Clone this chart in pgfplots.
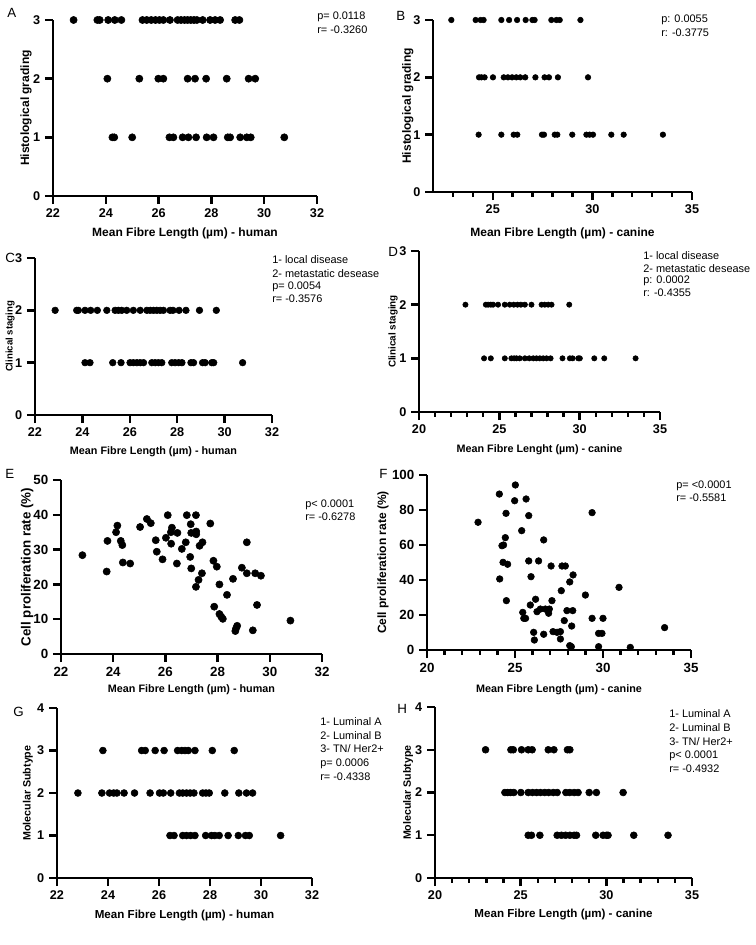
\documentclass[border=0pt]{standalone}
\usepackage{fontspec}
\setmainfont{Liberation Sans}
\usepackage{pgfplots}
\pgfplotsset{compat=1.18}

\def\u{0.75pt}
\pgfplotsset{
  gp/.style={
    scale only axis, clip=false, anchor=south west,
    axis lines*=left,
    axis line style={-, line width=1.8pt, black},
    tick align=outside,
    major tick length=6pt, minor tick length=3.5pt,
    tick style={black, line width=1.8pt},
    ticklabel style={font=\bfseries\fontsize{9.5}{11}\selectfont},
    /pgf/number format/assume math mode=true,
    every axis plot post/.append style={only marks, mark=*, black, mark options={fill=black, draw=black}},
  },
  xl/.style 2 args={xlabel style={at={(axis description cs:0.5,-#1)}, anchor=center, font=\bfseries\fontsize{#2}{11}\selectfont}},
  yl/.style 2 args={ylabel style={at={(axis description cs:-#1,0.5)}, anchor=center, font=\bfseries\fontsize{#2}{11}\selectfont}},
}
\newcommand\ann[3]{\node[anchor=base west, inner sep=0pt, font=\fontsize{8.2}{10}\selectfont] at (#1*\u,-#2*\u) {#3};}
\newcommand\lett[3]{\node[anchor=base west, inner sep=0pt, font=\fontsize{10}{12}\selectfont] at (#1*\u,-#2*\u) {#3};}

\begin{document}
\begin{tikzpicture}
\useasboundingbox (0,0) rectangle (756*\u,-945*\u);

% A
\begin{axis}[gp, at={(53*\u,-196*\u)}, width=264*\u, height=176*\u,
  xmin=22, xmax=32, ymin=0, ymax=3, xtick={22,24,...,32}, ytick={0,1,2,3},
  xlabel={Mean Fibre Length (µm) - human}, ylabel={Histological grading},
  xl={0.21}{9}, yl={0.102}{9}, mark size=2.7pt]
\addplot coordinates {(22.78,3) (23.68,3) (23.77,3) (24.09,3) (24.34,3) (24.59,3)
 (25.39,3) (25.55,3) (25.72,3) (25.88,3) (26.03,3) (26.18,3) (26.43,3)
 (26.72,3) (26.85,3) (26.98,3) (27.10,3) (27.22,3) (27.34,3) (27.45,3)
 (27.67,3) (27.95,3) (28.14,3) (28.33,3) (28.90,3) (29.06,3)
 (24.06,2) (25.27,2) (25.99,2) (26.18,2) (27.10,2) (27.38,2) (27.80,2) (28.58,2) (29.41,2) (29.66,2)
 (24.25,1) (24.32,1) (25.00,1) (26.41,1) (26.56,1) (26.91,1) (27.13,1) (27.42,1) (27.82,1) (28.08,1)
 (28.62,1) (28.71,1) (29.09,1) (29.34,1) (29.49,1) (30.76,1)};
\end{axis}

% B
\begin{axis}[gp, at={(433*\u,-192*\u)}, width=259*\u, height=172*\u,
  xmin=22, xmax=35, ymin=0, ymax=3, xtick={25,30,35}, minor xtick={23,24,26,27,28,29,31,32,33,34}, ytick={0,1,2,3},
  xlabel={Mean Fibre Length (µm) - canine}, ylabel={Histological grading},
  xl={0.238}{9}, yl={0.097}{9}, mark size=2.1pt]
\addplot coordinates {(22.92,3) (24.14,3) (24.39,3) (24.54,3) (25.43,3) (25.82,3) (26.22,3)
 (26.65,3) (26.99,3) (27.10,3) (27.94,3) (28.19,3) (28.36,3) (29.40,3)
 (24.31,2) (24.43,2) (24.59,2) (25.01,2) (25.55,2) (25.76,2) (25.97,2) (26.18,2) (26.38,2) (26.63,2)
 (27.14,2) (27.60,2) (27.82,2) (28.27,2) (29.78,2)
 (24.29,1) (25.43,1) (26.05,1) (26.23,1) (27.47,1) (27.57,1) (28.11,1) (28.24,1) (28.99,1)
 (29.70,1) (29.86,1) (30.03,1) (30.95,1) (31.57,1) (33.54,1)};
\end{axis}

% C
\begin{axis}[gp, at={(35*\u,-415*\u)}, width=237*\u, height=157*\u,
  xmin=22, xmax=32, ymin=0, ymax=3, xtick={22,24,...,32}, ytick={0,1,2,3},
  xlabel={Mean Fibre Length (µm) - human}, ylabel={Clinical staging},
  xl={0.236}{8.1}, yl={0.105}{7.2}, mark size=2.5pt]
\addplot coordinates {(22.85,2) (23.76,2) (23.83,2) (24.11,2) (24.35,2) (24.63,2) (25.03,2)
 (25.38,2) (25.52,2) (25.66,2) (25.87,2) (26.15,2) (26.44,2) (26.72,2) (26.86,2) (27.00,2)
 (27.14,2) (27.28,2) (27.42,2) (27.70,2) (27.82,2) (28.08,2) (28.37,2) (28.94,2) (29.65,2)
 (24.11,1) (24.32,1) (25.28,1) (25.63,1) (26.01,1) (26.15,1) (26.30,1) (26.44,1) (26.58,1)
 (26.93,1) (27.07,1) (27.21,1) (27.35,1) (27.77,1) (27.91,1) (28.06,1) (28.20,1)
 (28.58,1) (28.69,1) (29.07,1) (29.18,1) (29.46,1) (29.54,1) (30.76,1)};
\end{axis}

% D
\begin{axis}[gp, at={(419*\u,-412*\u)}, width=241*\u, height=161*\u,
  xmin=20, xmax=35, ymin=0, ymax=3, xtick={20,25,30,35}, minor x tick num=4, ytick={0,1,2,3},
  xlabel={Mean Fibre Lenght (µm) - canine}, ylabel={Clinical staging},
  xl={0.236}{8.1}, yl={0.108}{7.4}, mark size=2.0pt]
\addplot coordinates {(22.89,2) (24.16,2) (24.30,2) (24.47,2) (24.61,2) (24.92,2) (25.34,2) (25.65,2)
 (25.90,2) (26.13,2) (26.34,2) (26.59,2) (27.00,2) (27.63,2) (27.83,2) (28.04,2) (28.25,2) (29.35,2)
 (24.05,1) (24.47,1) (25.34,1) (25.75,1) (25.92,1) (26.07,1) (26.27,1) (26.59,1) (26.86,1) (27.11,1)
 (27.31,1) (27.52,1) (27.73,1) (27.94,1) (28.19,1) (28.93,1) (29.39,1) (29.56,1) (29.91,1) (30.01,1)
 (30.91,1) (31.53,1) (33.48,1)};
\end{axis}

% E
\begin{axis}[gp, at={(61*\u,-654*\u)}, width=261*\u, height=174*\u,
  xmin=22, xmax=32, ymin=0, ymax=50, xtick={22,24,...,32}, ytick={0,10,...,50},
  xlabel={Mean Fibre Length (µm) - human}, ylabel={Cell proliferation rate (\%)},
  xl={0.207}{8.1}, yl={0.13}{10}, mark size=2.7pt,
  ticklabel style={font=\bfseries\fontsize{10}{12}\selectfont}]
\addplot coordinates {(22.82,28.4) (23.75,23.7) (23.78,32.5) (24.11,35.0) (24.16,36.9) (24.29,32.5)
 (24.35,31.3) (24.37,26.3) (24.65,26.0) (25.03,36.5) (25.29,38.8) (25.44,37.6) (25.63,32.7)
 (25.67,29.4) (25.89,27.2) (26.02,33.4) (26.09,39.9) (26.21,35.0) (26.25,36.3) (26.22,31.7)
 (26.46,34.8) (26.44,26.0) (26.63,30.2) (26.78,32.1) (26.82,39.9) (26.95,27.9) (26.99,34.8)
 (26.97,37.3) (26.99,24.6) (27.17,39.9) (27.18,35.2) (27.18,34.4) (27.31,31.1) (27.42,32.1)
 (27.17,19.3) (27.27,21.3) (27.40,23.2) (27.72,37.5) (27.84,26.8) (27.97,25.1) (27.87,13.6)
 (28.07,20.0) (28.07,11.5) (28.14,10.7) (28.20,10.1) (28.36,17.0) (28.59,21.6) (28.68,6.6)
 (28.71,7.4) (28.75,8.1) (28.93,24.8) (29.12,32.1) (29.12,23.2) (29.44,23.2) (29.51,14.1)
 (29.35,6.8) (29.66,22.5) (30.79,9.6)};
\end{axis}

% F
\begin{axis}[gp, at={(427*\u,-650*\u)}, width=264*\u, height=175*\u,
  xmin=20, xmax=35, ymin=0, ymax=100, xtick={20,25,30,35}, minor x tick num=4, ytick={0,20,...,100},
  xlabel={Mean Fibre Length (µm) - canine}, ylabel={Cell proliferation rate (\%)},
  xl={0.229}{8.1}, yl={0.167}{9}, mark size=2.5pt,
  ticklabel style={font=\bfseries\fontsize{10}{12}\selectfont}]
\addplot coordinates {(22.90,73.0) (24.11,89.1) (24.13,40.6) (24.26,59.6) (24.35,60.0) (24.45,64.2)
 (24.32,50.1) (24.58,49.0) (24.49,78.1) (24.51,28.2) (24.98,85.3) (25.02,94.3) (25.38,68.2)
 (25.63,86.3) (25.78,76.8) (25.78,50.9) (25.44,21.5) (25.50,18.1) (25.60,18.1) (25.87,25.7)
 (25.91,41.9) (26.06,10.1) (26.10,5.7) (26.17,29.0) (26.25,21.9) (26.34,50.9) (26.44,23.4)
 (26.63,62.9) (26.63,9.0) (26.72,23.4) (26.91,21.0) (26.95,23.4) (27.05,48.0) (27.10,28.2)
 (27.16,10.5) (27.39,10.1) (27.58,10.5) (27.58,6.3) (27.63,33.9) (27.67,48.0) (27.86,48.0)
 (27.80,16.8) (28.11,38.9) (27.95,22.5) (28.28,22.5) (28.30,42.9) (28.22,13.7) (28.11,2.5)
 (28.20,1.9) (29.00,31.4) (29.38,18.1) (29.38,78.5) (29.75,9.5) (29.94,9.5) (29.75,1.9)
 (30.00,18.1) (30.91,35.8) (31.55,1.5) (33.50,12.8)};
\end{axis}

% G
\begin{axis}[gp, at={(57*\u,-878*\u)}, width=255*\u, height=170*\u,
  xmin=22, xmax=32, ymin=0, ymax=4, xtick={22,24,...,32}, ytick={0,1,2,3,4},
  xlabel={Mean Fibre Length (µm) - human}, ylabel={Molecular Subtype},
  xl={0.218}{8.7}, yl={0.114}{8}, mark size=2.6pt]
\addplot coordinates {(23.80,3) (25.32,3) (25.46,3) (25.85,3) (26.20,3) (26.73,3) (26.89,3) (27.02,3)
 (27.15,3) (27.41,3) (28.09,3) (28.95,3)
 (22.82,2) (23.76,2) (24.06,2) (24.22,2) (24.35,2) (24.63,2) (25.04,2) (25.65,2) (26.02,2) (26.17,2)
 (26.46,2) (26.80,2) (26.93,2) (27.08,2) (27.22,2) (27.37,2) (27.71,2) (27.84,2) (27.97,2) (28.58,2)
 (29.13,2) (29.43,2) (29.67,2)
 (26.43,1) (26.59,1) (26.93,1) (27.08,1) (27.24,1) (27.41,1) (27.83,1) (28.06,1) (28.19,1) (28.36,1)
 (28.71,1) (29.11,1) (29.39,1) (29.54,1) (30.77,1)};
\end{axis}

% H
\begin{axis}[gp, at={(435*\u,-878*\u)}, width=257*\u, height=171*\u,
  xmin=20, xmax=35, ymin=0, ymax=4, xtick={20,25,30,35}, minor x tick num=4, ytick={0,1,2,3,4},
  xlabel={Mean Fibre Length (µm) - canine}, ylabel={Molecular Subtype},
  xl={0.216}{8.7}, yl={0.105}{8}, mark size=2.6pt]
\addplot coordinates {(22.95,3) (24.43,3) (24.57,3) (25.05,3) (25.44,3) (25.67,3) (26.61,3) (26.94,3)
 (27.73,3) (27.87,3)
 (24.08,2) (24.24,2) (24.41,2) (24.60,2) (25.01,2) (25.44,2) (25.69,2) (25.93,2) (26.16,2) (26.41,2)
 (26.64,2) (26.90,2) (27.13,2) (27.64,2) (27.87,2) (28.12,2) (28.35,2) (29.00,2) (29.42,2) (30.98,2)
 (25.44,1) (25.63,1) (26.12,1) (27.13,1) (27.38,1) (27.62,1) (27.87,1) (28.12,1) (28.26,1)
 (29.38,1) (29.81,1) (30.01,1) (30.10,1) (31.60,1) (33.60,1)};
\end{axis}

% annotations
\ann{317}{20}{p= 0.0118}
\ann{317}{34}{r= -0.3260}
\ann{661}{23}{p: 0.0055}
\ann{661}{37}{r: -0.3775}
\ann{272}{263}{1- local disease}
\ann{272}{277}{2- metastatic desease}
\ann{272}{289}{p= 0.0054}
\ann{272}{302}{r= -0.3576}
\ann{643}{259}{1- local disease}
\ann{643}{272}{2- metastatic desease}
\ann{643}{283}{p: 0.0002}
\ann{643}{296}{r: -0.4355}
\ann{305}{507}{p< 0.0001}
\ann{305}{520}{r= -0.6278}
\ann{676}{488}{p= <0.0001}
\ann{676}{501}{r= -0.5581}
\ann{320}{725}{1- Luminal A}
\ann{320}{739}{2- Luminal B}
\ann{320}{752}{3- TN/ Her2+}
\ann{320}{766}{p= 0.0006}
\ann{320}{780}{r= -0.4338}
\ann{669}{717}{1- Luminal A}
\ann{669}{731}{2- Luminal B}
\ann{669}{745}{3- TN/ Her2+}
\ann{669}{758}{p< 0.0001}
\ann{669}{772}{r= -0.4932}

% panel letters
\lett{7}{18}{A}
\lett{396}{21}{B}
\lett{5}{262}{C}
\lett{388}{256}{D}
\lett{5}{478}{E}
\lett{379}{478}{F}
\lett{13}{716}{G}
\lett{397}{713}{H}
\end{tikzpicture}
\end{document}
